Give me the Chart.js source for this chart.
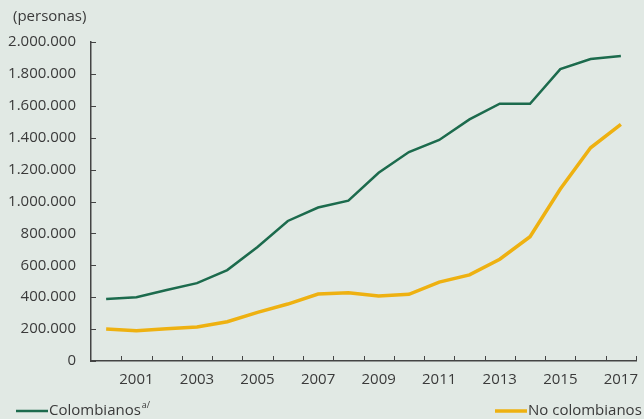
<!DOCTYPE html>
<html>
<head>
<meta charset="utf-8">
<script src="https://cdn.jsdelivr.net/npm/chart.js@4"></script>
<style>
  html, body { margin: 0; padding: 0; background: #e1e9e4; }
  #wrap { width: 644px; height: 419px; position: relative; }
</style>
</head>
<body>
<div id="wrap"><canvas id="myChart"></canvas></div>
<script>
// Data
const years = ['2000', '2001', '2002', '2003', '2004', '2005', '2006', '2007', '2008',
               '2009', '2010', '2011', '2012', '2013', '2014', '2015', '2016', '2017'];
const colombianos = [388000, 400000, 445000, 488000, 570000, 715000, 878000, 962000, 1005000,
                     1180000, 1310000, 1386000, 1515000, 1613000, 1613000, 1830000, 1893000, 1912000];
const noColombianos = [200000, 190000, 202000, 213000, 246000, 305000, 357000, 420000, 428000,
                       408000, 418000, 495000, 540000, 638000, 779000, 1078000, 1337000, 1484000];
const yTicks = [0, 200000, 400000, 600000, 800000, 1000000, 1200000, 1400000, 1600000, 1800000, 2000000];
const yTitle = '(personas)';

const green = '#1c6b4d';
const yellow = '#eeb111';
const axisColor = '#444';
const textColor = '#3a3a3a';
const font = '"Open Sans", sans-serif';

function fmt(v) {
    return String(v).replace(/\B(?=(\d{3})+(?!\d))/g, '.');
}

// inward tick marks, axis title and the split legend
const decorations = {
    id: 'decorations',
    afterDraw(chart) {
        const ctx = chart.ctx;
        const x = chart.scales.x, y = chart.scales.y;
        const area = chart.chartArea;
        ctx.save();
        ctx.strokeStyle = axisColor;
        ctx.lineWidth = 1;
        // x ticks at category boundaries
        const n = years.length;
        const step = (x.right - x.left) / n;
        for (let i = 1; i <= n; i++) {
            const px = Math.round(x.left + i * step) + 0.5;
            ctx.beginPath();
            ctx.moveTo(px, area.bottom);
            ctx.lineTo(px, area.bottom - 5);
            ctx.stroke();
        }
        // y ticks
        y.ticks.forEach(t => {
            const py = Math.round(y.getPixelForValue(t.value)) + 0.5;
            ctx.beginPath();
            ctx.moveTo(area.left, py);
            ctx.lineTo(area.left + 5, py);
            ctx.stroke();
        });
        // axis title
        ctx.fillStyle = textColor;
        ctx.font = '15px ' + font;
        ctx.textBaseline = 'middle';
        ctx.textAlign = 'left';
        ctx.fillText(yTitle, 13, 17);
        // legend
        const ly = 411;
        const items = [
            { x: 16, color: green, width: 2.5, label: chart.data.datasets[0].label, sup: 'a/' },
            { x: 495, color: yellow, width: 3.5, label: chart.data.datasets[1].label }
        ];
        items.forEach(it => {
            ctx.strokeStyle = it.color;
            ctx.lineWidth = it.width;
            ctx.beginPath();
            ctx.moveTo(it.x, ly);
            ctx.lineTo(it.x + 32, ly);
            ctx.stroke();
            ctx.fillStyle = textColor;
            ctx.font = '15px ' + font;
            ctx.fillText(it.label, it.x + 33, ly);
            if (it.sup) {
                const w = ctx.measureText(it.label).width;
                ctx.font = '9px ' + font;
                ctx.fillText(it.sup, it.x + 34 + w, ly - 6);
            }
        });
        ctx.restore();
    }
};

const data = {
    labels: years,
    datasets: [{
        label: 'Colombianos',
        data: colombianos,
        borderColor: green,
        backgroundColor: green,
        borderWidth: 2.5,
        pointRadius: 0,
        tension: 0
    }, {
        label: 'No colombianos',
        data: noColombianos,
        borderColor: yellow,
        backgroundColor: yellow,
        borderWidth: 3.5,
        pointRadius: 0,
        tension: 0
    }]
};

const config = {
    type: 'line',
    data: data,
    plugins: [decorations],
    options: {
        responsive: true,
        maintainAspectRatio: false,
        animation: false,
        layout: { padding: { left: 0, right: 8, top: 42, bottom: 33 } },
        plugins: {
            legend: { display: false },
            tooltip: { enabled: false }
        },
        scales: {
            x: {
                offset: true,
                grid: { display: false, offset: true, drawTicks: false },
                border: { display: true, color: axisColor, width: 1.5 },
                ticks: {
                    autoSkip: false,
                    maxRotation: 0,
                    padding: 10,
                    color: textColor,
                    font: { family: font, size: 15 },
                    callback: function (v, i) { return i % 2 === 1 ? years[i] : ''; }
                },
                afterFit: s => { s.height = 25; s.paddingLeft = 0; s.paddingRight = 0; }
            },
            y: {
                min: 0,
                max: 2000000,
                afterBuildTicks: s => { s.ticks = yTicks.map(v => ({ value: v })); },
                grid: { display: false, drawTicks: false },
                border: { display: true, color: axisColor, width: 1.5 },
                ticks: {
                    padding: 15,
                    color: textColor,
                    font: { family: font, size: 15 },
                    callback: v => fmt(v)
                },
                afterFit: s => { s.width = 91; s.paddingTop = 0; s.paddingBottom = 0; }
            }
        }
    }
};

const myChart = new Chart(document.getElementById('myChart'), config);
</script>
</body>
</html>
